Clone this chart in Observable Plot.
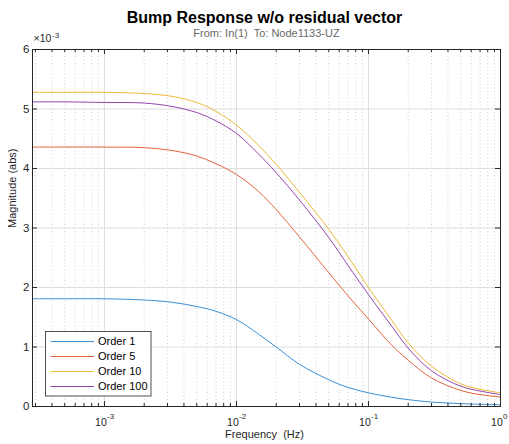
<!DOCTYPE html>
<html>
<head>
<meta charset="utf-8">
<script src="https://cdn.jsdelivr.net/npm/d3@7"></script>
<script src="https://cdn.jsdelivr.net/npm/@observablehq/plot@0.6"></script>
<style>
  html, body { margin: 0; padding: 0; background: #fff; }
  #chart { width: 509px; height: 444px; }
  svg { font-family: "Liberation Sans", Arial, Helvetica, sans-serif; }
</style>
</head>
<body>
<div id="chart"></div>
<script>
// ---- data (magnitude in units of 1e-3) ----
const freq    = [2.85e-4, 5e-4, 1e-3, 2e-3, 3.3e-3, 5e-3, 7e-3, 0.01, 0.0146, 0.02, 0.03, 0.05, 0.07, 0.1, 0.15, 0.2, 0.3, 0.5, 0.7, 1];
const order1  = [1.81, 1.81, 1.81, 1.79, 1.75, 1.68, 1.60, 1.46, 1.22, 1.00, 0.71, 0.45, 0.32, 0.23, 0.155, 0.115, 0.075, 0.048, 0.037, 0.03];
const order5  = [4.36, 4.36, 4.36, 4.35, 4.30, 4.21, 4.08, 3.90, 3.62, 3.31, 2.85, 2.25, 1.86, 1.47, 1.03, 0.78, 0.48, 0.27, 0.20, 0.16];
const order10 = [5.28, 5.28, 5.28, 5.26, 5.21, 5.11, 4.96, 4.73, 4.39, 4.07, 3.60, 2.98, 2.52, 2.00, 1.45, 1.07, 0.68, 0.38, 0.29, 0.23];
const order100= [5.12, 5.12, 5.11, 5.10, 5.04, 4.94, 4.80, 4.59, 4.25, 3.93, 3.47, 2.84, 2.37, 1.88, 1.35, 0.98, 0.60, 0.34, 0.26, 0.20];
const seriesNames = ["Order 1", "Order 5", "Order 10", "Order 100"];
const seriesValues = [order1, order5, order10, order100];
const colors = ["#3a8fd6", "#e2643a", "#efb93a", "#9446ad"];

const yTicks = [0, 1, 2, 3, 4, 5, 6];
const xMajor = [1e-3, 1e-2, 1e-1, 1];
const xMajorExp = ["-3", "-2", "-1", "0"];
const xMinor = [];
for (let e = -4; e <= -1; e++) for (let m = 2; m <= 9; m++) {
  const v = m * Math.pow(10, e);
  if (v >= 2.85e-4 && v <= 1) xMinor.push(v);
}
const titleText = "Bump Response w/o residual vector";
const subtitleText = "From: In(1)  To: Node1133-UZ";
const xLabel = "Frequency  (Hz)";
const yLabel = "Magnitude (abs)";

const data = seriesNames.flatMap((name, i) =>
  freq.map((f, j) => ({ f, v: seriesValues[i][j], name })));

const W = 509, H = 444;
const mL = 32, mR = 9, mT = 49, mB = 38;
const pw = W - mL - mR, ph = H - mT - mB;
const axisColor = "#262626";
const fontTick = 10.5;

const plot = Plot.plot({
  width: W, height: H,
  marginLeft: mL, marginRight: mR, marginTop: mT, marginBottom: mB,
  style: { fontFamily: '"Liberation Sans", Arial, Helvetica, sans-serif', background: "#fff", overflow: "visible" },
  x: { type: "log", domain: [2.85e-4, 1], axis: null },
  y: { domain: [0, 6], axis: null },
  color: { domain: seriesNames, range: colors },
  marks: [
    // minor grid (dotted)
    Plot.ruleX(xMinor, { stroke: "#c4c4c4", strokeWidth: 0.8, strokeDasharray: "1,2.5" }),
    // major grid
    Plot.ruleX(xMajor.slice(0, 3), { stroke: "#dedede", strokeWidth: 1 }),
    Plot.ruleY(yTicks.slice(1, 6), { stroke: "#dedede", strokeWidth: 1 }),
    // lines
    Plot.line(data, { x: "f", y: "v", z: "name", stroke: "name", strokeWidth: 1, curve: "catmull-rom" }),
    // frame
    Plot.frame({ stroke: axisColor, strokeWidth: 1 }),
    // inward ticks: x bottom/top
    Plot.tickX(xMajor, { stroke: axisColor, insetTop: ph - 5 }),
    Plot.tickX(xMajor, { stroke: axisColor, insetBottom: ph - 5 }),
    Plot.tickX(xMinor, { stroke: axisColor, insetTop: ph - 3 }),
    Plot.tickX(xMinor, { stroke: axisColor, insetBottom: ph - 3 }),
    // inward ticks: y left/right
    Plot.tickY(yTicks, { stroke: axisColor, insetRight: pw - 5 }),
    Plot.tickY(yTicks, { stroke: axisColor, insetLeft: pw - 5 }),
    // y tick labels
    Plot.text(yTicks, { y: d => d, text: d => String(d), frameAnchor: "left", textAnchor: "end", dx: -3, fontSize: 11.5, fill: axisColor }),
    // x tick labels: 10^exp
    Plot.text(xMajor, { x: d => d, text: () => "10", frameAnchor: "bottom", textAnchor: "end", lineAnchor: "bottom", dx: 2.3, dy: 19, fontSize: fontTick, fill: axisColor }),
    Plot.text(xMajor, { x: d => d, text: (d, i) => xMajorExp[i], frameAnchor: "bottom", textAnchor: "start", lineAnchor: "bottom", dx: 2.5, dy: 12.5, fontSize: 8, fill: axisColor }),
    // exponent multiplier
    Plot.text(["×10"], { frameAnchor: "top-left", textAnchor: "start", lineAnchor: "bottom", dx: 1, dy: -8, fontSize: fontTick, fill: axisColor }),
    Plot.text(["-3"], { frameAnchor: "top-left", textAnchor: "start", lineAnchor: "bottom", dx: 19.5, dy: -12, fontSize: 8, fill: axisColor }),
    // axis labels
    Plot.text([xLabel], { frameAnchor: "bottom", lineAnchor: "bottom", dx: -2, dy: 31, fontSize: 11, fill: axisColor }),
    Plot.text([yLabel], { frameAnchor: "left", rotate: -90, dx: -20, fontSize: 11, fill: axisColor }),
    // titles
    Plot.text([titleText], { frameAnchor: "top", lineAnchor: "bottom", dx: -2, dy: -27, fontSize: 16, fontWeight: "bold", fill: "#000" }),
    Plot.text([subtitleText], { frameAnchor: "top", lineAnchor: "bottom", dy: -12.5, fontSize: 11, fill: "#6a6a6a" })
  ]
});

// legend (MATLAB style box inside the axes)
const svg = d3.select(plot);
const lg = svg.append("g").attr("text-anchor", "start");
const bx = 45.5, by = 331.5, bw = 105.5, bh = 64.5;
lg.append("rect").attr("x", bx).attr("y", by).attr("width", bw).attr("height", bh)
  .attr("fill", "#fff").attr("stroke", axisColor).attr("stroke-width", 0.8);
seriesNames.forEach((name, i) => {
  const yy = 341.5 + i * 15;
  lg.append("line").attr("x1", 50.5).attr("x2", 94).attr("y1", yy).attr("y2", yy)
    .attr("stroke", colors[i]).attr("stroke-width", 1);
  lg.append("text").attr("x", 98).attr("y", yy).attr("dy", "0.35em")
    .attr("text-anchor", "start")
    .attr("font-size", 11).attr("fill", "#000").text(name);
});

document.getElementById("chart").appendChild(plot);
</script>
</body>
</html>
